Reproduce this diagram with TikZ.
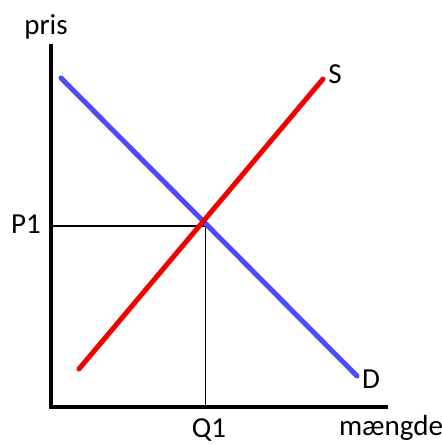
\documentclass[tikz,border=0pt]{standalone}
\usepackage{fontspec}
\setmainfont{Carlito}
\begin{document}
\begin{tikzpicture}[x=1pt,y=-1pt,
  axis/.style={line width=4.5pt,line cap=rect},
  guide/.style={line width=1.8pt},
  supply/.style={line width=5pt,color=red!95!black,line cap=round},
  demand/.style={line width=5pt,color=blue!70!white,line cap=round},
  lbl/.style={font=\fontsize{29}{34}\selectfont,inner sep=0pt,anchor=base}]
\useasboundingbox (0,0) rectangle (442,445);
\fill[white] (0,0) rectangle (442,445);
\coordinate (top) at (51,46);
\coordinate (origin) at (51,407);
\coordinate (xend) at (386,407);
\coordinate (eq) at (205.5,226);
\coordinate (p1) at (51,226);
\coordinate (q1) at (205.5,407);
\coordinate (s0) at (79,369);
\coordinate (s1) at (323,79);
\coordinate (d0) at (61,78);
\coordinate (d1) at (357,376);
\draw[guide] (p1) -- (eq) -- (q1);
\draw[demand] (d0) -- (d1);
\draw[supply] (s0) -- (s1);
\draw[axis] (top) -- (origin) -- (xend);
\node[lbl] (pris) at (46,34) {pris};
\node[lbl] (P1) at (26,233) {P1};
\node[lbl] (Q1) at (209,437) {Q1};
\node[lbl] (mg) at (391,435) {mængde};
\node[lbl] (S) at (335,83) {S};
\node[lbl] (D) at (371,388) {D};
\end{tikzpicture}
\end{document}
